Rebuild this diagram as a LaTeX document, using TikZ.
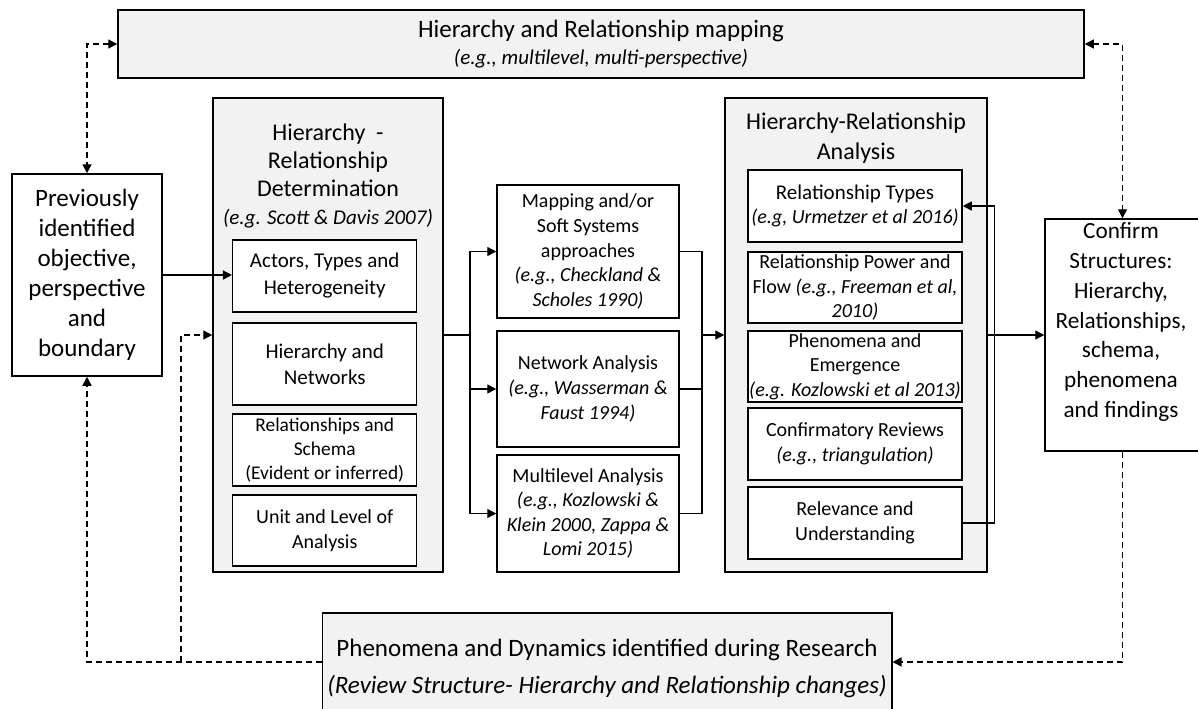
\documentclass[tikz,border=0pt]{standalone}
\usepackage{fontspec}
\setmainfont{Carlito}
\usetikzlibrary{arrows.meta}

\begin{document}
\begin{tikzpicture}[x=0.5pt,y=-0.5pt,
  >={Triangle[length=4.5pt,width=4.5pt]},
  box/.style={draw,line width=0.75pt,align=center,inner sep=0.5pt,fill=white},
  panel/.style={box,fill=black!5},
  big/.style={font=\fontsize{12.5}{15}\selectfont},
  mid/.style={align=center,font=\fontsize{12}{14}\selectfont},
  small/.style={font=\fontsize{10}{12.3}\selectfont},
  flow/.style={line width=0.7pt,->},
  dflow/.style={flow,dash pattern=on 3pt off 2pt}]
  \useasboundingbox (0,0) rectangle (1198,708);
  \clip (0,0) rectangle (1198,708);

  % top and left
  \node[panel,minimum width=483pt,minimum height=34pt,font=\fontsize{12.5}{13.5}\selectfont] (mapbox) at (601,44)
    {Hierarchy and Relationship mapping\\{\fontsize{10.5}{12}\selectfont\itshape (e.g., multilevel, multi-perspective)}};
  \node[box,big,minimum width=75pt,minimum height=101pt] (prev) at (87,275)
    {Previously\\identified\\objective,\\perspective\\and\\boundary};

  % determination column
  \node[panel,minimum width=115pt,minimum height=237pt] (detpanel) at (328,335) {};
  \node[mid] (dettitle) at (328,176)
    {Hierarchy\ \ -\\Relationship\\Determination\\{\fontsize{10.5}{12}\selectfont\itshape (e.g. Scott \& Davis 2007)}};
  \node[box,font=\fontsize{10.5}{13.5}\selectfont,minimum width=92pt,minimum height=36pt] (actors) at (324.7,276)
    {Actors, Types and\\Heterogeneity};
  \node[box,font=\fontsize{10.5}{13}\selectfont,minimum width=92pt,minimum height=41pt] (hiernet) at (324.7,364)
    {Hierarchy and\\Networks};
  \node[box,font=\fontsize{9.7}{12}\selectfont,minimum width=92pt,minimum height=36pt] (relschema) at (324.7,450)
    {Relationships and\\Schema\\(Evident or inferred)};
  \node[box,small,minimum width=92pt,minimum height=35.5pt] (unitlevel) at (324.7,530.5)
    {Unit and Level of\\Analysis};

  % approaches column
  \node[box,small,minimum width=91pt,minimum height=66.5pt] (mapping) at (588,251.5)
    {Mapping and/or\\Soft Systems\\approaches\\\textit{(e.g., Checkland \&}\\\textit{Scholes 1990)}};
  \node[box,small,minimum width=91pt,minimum height=58pt] (network) at (588,389)
    {Network Analysis\\\textit{(e.g., Wasserman \&}\\\textit{Faust 1994)}};
  \node[box,small,minimum width=91pt,minimum height=58.5pt] (multi) at (588,513.5)
    {Multilevel Analysis\\\textit{(e.g., Kozlowski \&}\\\textit{Klein 2000, Zappa \&}\\\textit{Lomi 2015)}};

  % analysis column
  \node[panel,minimum width=131pt,minimum height=237pt] (anapanel) at (856,335) {};
  \node[align=center,font=\fontsize{12}{15}\selectfont] (anatitle) at (856,138)
    {Hierarchy-Relationship\\Analysis};
  \node[box,font=\fontsize{10.5}{12}\selectfont,minimum width=107pt,minimum height=36pt] (types) at (855,206)
    {Relationship Types\\{\fontsize{10}{12}\selectfont\itshape (e.g, Urmetzer et al 2016)}};
  \node[box,small,minimum width=107pt,minimum height=35.5pt] (power) at (855,287.5)
    {Relationship Power and\\Flow \textit{(e.g., Freeman et al,}\\\textit{2010)}};
  \node[box,small,minimum width=107pt,minimum height=35.5pt] (phen) at (855,366.5)
    {Phenomena and\\Emergence\\\textit{(e.g. Kozlowski et al 2013)}};
  \node[box,small,minimum width=107pt,minimum height=36pt] (confrev) at (855,444)
    {Confirmatory Reviews\\\textit{(e.g., triangulation)}};
  \node[box,small,minimum width=107pt,minimum height=36pt] (relev) at (855,523)
    {Relevance and\\Understanding};

  % right and bottom
  \node[box,minimum width=77.5pt,minimum height=116pt] (confirm) at (1122.5,335) {};
  \node[align=center,font=\fontsize{11.6}{14.9}\selectfont] (confirmtxt) at (1121,322)
    {Confirm\\Structures:\\Hierarchy,\\Relationships,\\schema,\\phenomena\\and findings};
  \node[panel,minimum width=284.75pt,minimum height=55pt,font=\fontsize{12.5}{18.5}\selectfont] (phenbox) at (607,668)
    {Phenomena and Dynamics identified during Research\\\textit{(Review Structure- Hierarchy and Relationship changes)}};

  % solid connectors
  \coordinate (fork) at (470,335);
  \coordinate (join) at (702,335);
  \draw[flow] (prev.east) -- (prev.east -| actors.west);
  \draw[line width=0.7pt] (detpanel.east) -- (fork);
  \draw[flow] (fork) |- (mapping.west);
  \draw[flow] (fork) |- (network.west);
  \draw[flow] (fork) |- (multi.west);
  \draw[line width=0.7pt] (mapping.east) -| (join) (network.east) -| (join) (multi.east) -| (join);
  \draw[flow] (join) -- (anapanel.west);
  \draw[flow] (anapanel.east) -- (confirm.west);
  \draw[flow] (relev.east) -- ++(32,0) |- (types.east);

  % dashed feedback
  \coordinate (split) at (181,662);
  \draw[dflow,<->] (mapbox.west) -| (prev.north);
  \draw[dflow,<->] (mapbox.east) -| (confirm.north);
  \draw[dflow] (confirm.south) |- ([yshift=3pt]phenbox.east);
  \draw[dflow] ([yshift=3pt]phenbox.west) -| (prev.south);
  \draw[dflow] (split) |- (detpanel.west);
\end{tikzpicture}
\end{document}
